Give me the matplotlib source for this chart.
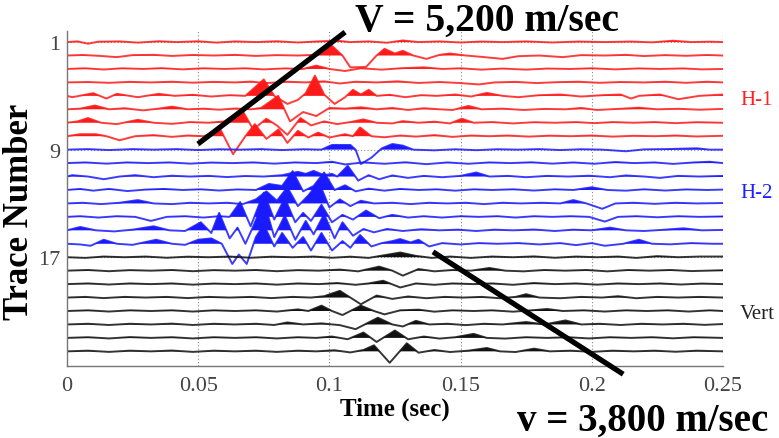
import numpy as np
import matplotlib
matplotlib.use("Agg")
import matplotlib.pyplot as plt

# each trace: (time in ms, amplitude in trace spacings)
h1_traces = [
    [(0, 0), (4, 0.05), (8, -0.12), (12, 0.03), (20, 0.05), (27, -0.04), (35, 0.06), (42, 0.0), (50, 0.06),
     (57, -0.04), (64, 0.05), (72, 0.0), (80, 0.06), (88, -0.03), (96, 0.05), (103, 0.1), (108, 0.0),
     (115, 0.05), (122, -0.05), (128, 0.12), (134, 0.0), (142, 0.05), (150, -0.03), (158, 0.04), (166, 0.0),
     (175, 0.05), (185, -0.03), (195, 0.04), (205, 0.0), (215, 0.04), (223, -0.02), (231, 0.1), (238, 0.0),
     (245, 0.03), (250, 0)],
    [(0, 0), (6, 0.04), (12, -0.02), (19, -0.12), (25, 0.03), (33, 0.05), (40, -0.03), (48, 0.04), (56, 0.0),
     (64, 0.05), (72, -0.03), (80, 0.03), (88, 0.0), (95, 0.05), (101, 0.72), (105, 0.0), (108, -0.88),
     (114, -0.85), (118, 0.0), (121, 0.5), (125, 0.15), (128, 0.35), (132, 0.0), (137, -0.25), (142, 0.05),
     (146, 0.15), (152, 0.0), (158, -0.1), (166, -0.25), (172, -0.05), (180, 0.0), (189, -0.12), (196, 0.03),
     (205, 0.0), (213, 0.05), (220, -0.04), (228, 0.03), (236, -0.02), (244, 0.04), (250, 0)],
    [(0, 0), (7, 0.05), (14, -0.04), (21, 0.05), (29, 0.0), (36, 0.06), (44, -0.03), (52, 0.05), (60, 0.0),
     (68, 0.05), (75, -0.03), (83, 0.04), (90, 0.0), (95, 0.25), (100, 0.0), (106, -0.15), (112, 0.05),
     (120, -0.05), (128, 0.06), (136, 0.12), (143, 0.0), (150, 0.05), (158, -0.05), (166, 0.03), (175, -0.05),
     (183, 0.03), (192, 0.0), (200, 0.05), (209, -0.03), (218, 0.04), (226, 0.0), (235, 0.04), (242, -0.03),
     (250, 0)],
    [(0, 0), (8, 0.03), (16, -0.03), (24, 0.04), (32, 0.0), (40, 0.05), (48, -0.02), (56, 0.04), (64, 0.0),
     (70, 0.06), (76, -0.05), (84, 0.05), (91, 0.0), (98, 0.08), (104, -0.08), (110, 0.05), (118, 0.0),
     (126, 0.08), (134, -0.04), (142, 0.03), (150, -0.05), (157, -0.15), (163, 0.0), (171, 0.04), (179, -0.05),
     (187, 0.02), (195, 0.05), (203, -0.03), (211, 0.03), (220, 0.0), (228, 0.05), (236, -0.03), (244, 0.05),
     (250, 0)],
    [(0, 0), (2, -0.1), (10, 0.2), (15, -0.2), (19, 0.15), (27, -0.1), (35, 0.15), (41, 0.0), (48, 0.08),
     (55, -0.05), (62, 0.05), (68, 0.0), (75, 1.22), (79, 0.0), (84, -0.6), (88, -0.3), (91, 0.2), (94.5, 1.5),
     (98, 0.1), (102, -0.6), (106, -0.1), (109, 0.45), (112, 0.1), (115, 0.45), (118, 0.0), (123, 0.08),
     (129, -0.1), (135, 0.05), (141, 0.0), (148, 0.1), (154, -0.05), (160, 0.22), (166, 0.0), (172, -0.1),
     (180, 0.05), (188, 0.1), (196, -0.05), (204, 0.05), (211, 0.1), (215, -0.2), (218, 0.0), (226, 0.1),
     (233, -0.25), (241, 0.0), (250, 0.1)],
    [(0, 0), (5, 0.05), (10.7, 0.28), (16, 0.0), (22, 0.08), (29, -0.08), (35, 0.05), (40, 0.2), (46, 0.0),
     (52, 0.05), (58, -0.03), (64, 0.06), (70, 0.0), (74, 0.1), (80.5, 1.0), (85, -0.9), (90, -0.2), (95, -0.5),
     (100, 0.1), (106, 0.05), (112, 0.15), (118, 0.0), (124, 0.1), (130, -0.05), (136, 0.08), (142, 0.0),
     (147, -0.05), (153, 0.25), (158, 0.0), (166, 0.05), (174, -0.05), (182, 0.03), (190, 0.0), (196, 0.1),
     (202, -0.05), (210, 0.03), (218, 0.12), (225, 0.0), (233, 0.04), (241, -0.03), (250, 0.03)],
    [(0, 0), (4, 0.1), (8, 0.35), (13, 0.0), (19, -0.1), (27, 0.22), (33, 0.0), (40, -0.08), (47, 0.05),
     (54, 0.0), (60, 0.1), (66.6, 1.0), (71, -0.5), (76, 0.3), (80, -0.2), (84, -0.9), (89, 0.35), (93, -0.2),
     (98, 0.1), (103, -0.1), (108, 0.05), (113, 0.25), (118, 0.0), (124, -0.05), (128, 0.12), (134, 0.0),
     (140, 0.08), (146, -0.05), (150.5, 0.3), (155, 0.0), (162, 0.05), (170, -0.05), (178, 0.04), (186, 0.0),
     (194, 0.05), (201, -0.03), (208, 0.05), (216, 0.0), (224, 0.05), (232, -0.03), (240, 0.04), (250, 0.0)],
    [(0, 0), (5, 0.15), (11, 0.15), (15, 0.0), (20, -0.3), (26, 0.0), (33, 0.08), (40, -0.05), (46, 0.05),
     (52, 0.0), (58.6, 0.45), (63.3, -1.34), (68, 0.0), (71.6, 0.9), (76, -0.2), (80.6, 0.5), (84, -0.5),
     (88, 0.4), (92, -0.1), (95.7, 0.27), (100, -0.1), (106, 0.15), (109, 0.0), (111.7, 0.65), (116, 0.0),
     (121, -0.08), (127, 0.05), (133, -0.03), (140, 0.08), (147, -0.05), (154, 0.05), (161, 0.0), (168, 0.05),
     (176, -0.03), (184, 0.04), (192, 0.0), (200, 0.05), (208, -0.03), (216, 0.03), (224, 0.0), (232, 0.05),
     (240, -0.02), (250, 0.03)],
]

h2_traces = [
    [(0, 0), (8, 0.04), (16, -0.03), (25, 0.04), (33, 0.0), (42, 0.04), (50, -0.03), (58, 0.03), (66, 0.0),
     (74, 0.04), (82, -0.03), (90, 0.03), (97, 0.0), (101, 0.35), (108, 0.35), (110, 0.0), (112, -1.07),
     (116, -0.6), (120, 0.1), (124, 0.42), (128, 0.3), (132, 0.0), (140, -0.05), (148, 0.03), (156, -0.04),
     (164, 0.03), (172, 0.0), (180, 0.04), (188, -0.03), (196, 0.03), (204, 0.0), (213, -0.12), (220, 0.02),
     (228, 0.04), (240, 0.1), (245, 0.0), (250, 0.0)],
    [(0, 0), (7, 0.05), (15, -0.04), (23, 0.05), (31, 0.0), (39, 0.05), (47, -0.04), (55, 0.04), (63, 0.0),
     (71, 0.05), (79, -0.04), (87, 0.05), (95, 0.0), (101, 0.1), (106, -0.1), (113, 0.05), (121, -0.05),
     (129, 0.06), (137, -0.08), (145, 0.05), (153, -0.05), (161, 0.05), (169, 0.0), (177, 0.06), (185, -0.04),
     (193, 0.05), (201, -0.05), (209, 0.08), (216, 0.0), (224, 0.05), (231, -0.06), (239, 0.05), (245, 0.1),
     (250, 0.0)],
    [(0, 0), (2, 0.1), (8, 0.0), (14, -0.2), (20, 0.0), (26, 0.1), (33, -0.05), (40, 0.06), (47, 0.0),
     (54, 0.05), (61, -0.04), (68, 0.04), (75, 0.0), (82, 0.1), (88, 0.35), (91, 0.2), (94, 0.42), (98, 0.1),
     (101, 0.2), (103, 0.0), (107, 0.8), (111, -0.3), (115, 0.1), (119, -0.2), (124, 0.08), (130, -0.1),
     (136, 0.05), (143, -0.05), (150, 0.05), (156, 0.3), (161, 0.0), (168, 0.05), (175, -0.05), (183, 0.05),
     (191, 0.0), (199, 0.06), (207, -0.05), (213, 0.08), (220, 0.0), (226, -0.1), (233, 0.05), (241, 0.0),
     (250, 0.05)],
    [(0, 0), (5, 0.08), (10, -0.05), (16, 0.08), (23, -0.08), (30, 0.03), (37, 0.08), (44, 0.0), (51, 0.05),
     (58, -0.04), (65, 0.04), (72, 0.0), (77, 0.45), (82, 0.3), (86, 1.4), (90, -0.1), (94, 0.3), (98, 1.3),
     (102, 0.0), (106, 0.35), (110, -0.1), (115, 0.1), (121, -0.05), (127, 0.08), (134, 0.0), (141, 0.05),
     (148, -0.05), (155, 0.05), (162, 0.0), (170, 0.05), (178, -0.04), (186, 0.05), (193, 0.0), (200, 0.2),
     (206, 0.0), (213, -0.05), (220, 0.05), (228, -0.04), (236, 0.04), (244, 0.0), (250, 0.03)],
    [(0, 0), (6, 0.05), (13, -0.05), (20, 0.05), (27, 0.25), (33, 0.0), (40, -0.05), (47, 0.05), (54, 0.0),
     (61, 0.05), (67, -0.05), (72, 0.3), (76, 0.9), (80, 0.2), (84, 1.2), (88, -0.2), (92, 0.6), (96, 1.6),
     (100, -0.3), (104, 0.3), (108, -0.2), (112, 0.2), (117, 0.0), (124, 0.05), (131, -0.05), (138, 0.05),
     (145, 0.0), (152, 0.05), (159, -0.05), (166, 0.05), (173, 0.0), (181, 0.05), (188, 0.0), (193, 0.25),
     (198, 0.0), (204, -0.4), (209, 0.0), (216, 0.05), (224, -0.03), (232, 0.05), (240, 0.0), (250, 0.03)],
    [(0, 0), (5, 0.05), (12, -0.05), (19, 0.05), (26, 0.0), (32, -0.3), (38, 0.0), (45, 0.05), (52, -0.05),
     (58, 0.05), (62, 0.0), (66, 1.1), (70, -0.7), (75, 1.8), (79, -0.2), (83, 1.4), (87, -0.4), (90, 0.3),
     (93, -0.3), (97, 0.9), (101, -0.4), (105, 0.15), (109, -0.2), (114, 0.47), (119, -0.1), (124, 0.15),
     (130, -0.05), (136, 0.05), (143, -0.05), (150, 0.05), (157, 0.0), (164, 0.05), (171, -0.05), (178, 0.05),
     (185, 0.0), (192, 0.05), (199, 0.0), (205, -0.35), (210, 0.0), (217, 0.05), (225, -0.03), (233, 0.05),
     (241, 0.0), (250, 0.03)],
    [(0, 0), (5, 0.25), (11, 0.0), (18, -0.08), (25, 0.05), (33, 0.3), (39, 0.0), (45, -0.05), (51, 0.6),
     (55, -0.2), (58, 1.3), (62, -0.6), (65, 0.2), (68, -1.0), (71, 0.3), (75, 2.2), (79, -0.5), (83, 1.1),
     (87, -0.7), (91, 0.7), (94, -0.3), (98, 1.2), (102, -0.6), (105, 0.6), (109, -0.4), (113, 0.1),
     (117, -0.15), (122, 0.1), (128, -0.05), (135, 0.08), (142, 0.0), (149, 0.05), (156, -0.05), (163, 0.05),
     (170, 0.0), (178, 0.06), (186, -0.05), (193, 0.05), (200, 0.0), (207, 0.2), (213, 0.0), (220, -0.05),
     (228, 0.05), (235, 0.15), (242, 0.0), (250, 0.03)],
    [(0, 0), (5, -0.05), (9, -0.15), (14, 0.3), (19, 0.0), (25, -0.08), (34, 0.3), (40, 0.0), (45, -0.08),
     (50, 0.3), (55, 0.4), (59, 0.0), (63, -1.5), (65.5, -0.8), (68.5, -1.5), (72, 0.5), (75, 1.4), (79, -0.2),
     (82, 0.8), (86, -0.3), (90, 0.5), (93, -0.5), (97, 0.8), (101, -0.5), (105, 0.2), (108, -0.3),
     (111.7, 0.65), (116, -0.2), (120, 0.05), (124, 0.2), (127, 0.35), (131, 0.1), (134, 0.3), (138, -0.2),
     (143, 0.05), (150, -0.05), (157, 0.05), (164, 0.0), (172, 0.05), (180, -0.05), (188, 0.05), (194, -0.1),
     (200, 0.05), (205, -0.15), (212, 0.0), (218, 0.3), (223, 0.0), (230, -0.04), (238, 0.05), (246, 0.0),
     (250, 0.0)],
]

vert_traces = [
    [(0, 0), (7, -0.05), (14, 0.05), (22, 0.0), (30, 0.05), (38, -0.04), (46, 0.04), (54, 0.0), (62, 0.05),
     (70, -0.04), (78, 0.04), (86, 0.0), (94, 0.05), (101, -0.04), (108, 0.04), (115, -0.05), (121, 0.15),
     (127, 0.35), (133, 0.1), (139, -0.05), (146, 0.05), (154, -0.05), (162, 0.05), (170, 0.0), (178, 0.06),
     (186, -0.04), (194, 0.05), (202, 0.0), (210, 0.05), (217, -0.05), (225, 0.08), (233, 0.0), (241, 0.05),
     (250, 0.05)],
    [(0, 0), (8, 0.05), (16, -0.04), (24, 0.04), (32, 0.0), (40, 0.05), (48, -0.04), (56, 0.04), (64, 0.0),
     (72, 0.05), (80, -0.04), (88, 0.04), (96, 0.0), (104, 0.08), (111, -0.05), (119, 0.3), (124, 0.0),
     (128, -0.37), (134, 0.12), (140, -0.05), (147, 0.05), (154, 0.0), (161, 0.2), (167, 0.0), (174, -0.05),
     (182, 0.05), (190, 0.0), (198, 0.05), (206, -0.05), (214, 0.05), (222, 0.0), (230, 0.05), (238, -0.03),
     (250, 0.03)],
    [(0, 0), (8, 0.05), (16, -0.03), (24, 0.05), (32, 0.0), (40, 0.05), (48, -0.04), (56, 0.04), (64, 0.0),
     (72, 0.05), (80, -0.04), (88, 0.05), (96, 0.0), (103, 0.08), (110, -0.05), (115, 0.05), (120.5, 0.25),
     (127, -0.25), (133, 0.05), (140, -0.05), (147, 0.05), (155, 0.0), (162, 0.05), (170, -0.05), (178, 0.08),
     (186, 0.0), (194, 0.05), (202, -0.04), (210, 0.05), (218, 0.0), (226, 0.05), (234, -0.03), (242, 0.04),
     (250, 0.0)],
    [(0, 0), (7, 0.05), (14, -0.04), (22, 0.05), (30, 0.0), (38, 0.05), (46, -0.04), (54, 0.05), (62, 0.0),
     (70, 0.05), (78, -0.04), (86, 0.05), (93, 0.0), (98, 0.1), (104, 0.5), (108, 0.0), (112, -0.5), (118, 0.15),
     (124, -0.1), (130, 0.08), (137, -0.05), (144, 0.05), (151, 0.0), (158, 0.05), (165, -0.05), (171, 0.05),
     (175, 0.25), (180, 0.0), (188, -0.05), (196, 0.05), (204, 0.0), (210, 0.1), (217, -0.05), (225, 0.05),
     (233, 0.0), (241, 0.05), (250, 0.0)],
    [(0, 0), (8, 0.05), (16, -0.04), (24, 0.05), (32, 0.0), (40, 0.05), (48, -0.04), (56, 0.05), (64, 0.0),
     (72, 0.05), (80, -0.04), (88, 0.12), (92, 0.0), (97, 0.4), (101, 0.0), (105, -0.3), (112, 0.4), (117, 0.0),
     (121, -0.25), (127, 0.05), (134, 0.1), (140, -0.05), (147, 0.05), (155, 0.0), (162, 0.05), (170, -0.05),
     (177, 0.05), (183, 0.15), (189, 0.0), (197, 0.05), (205, -0.04), (213, 0.05), (221, 0.0), (229, 0.05),
     (237, -0.04), (245, 0.05), (250, 0.0)],
    [(0, 0), (8, 0.05), (16, -0.04), (24, 0.05), (32, 0.0), (40, 0.06), (48, -0.04), (56, 0.05), (64, 0.0),
     (72, 0.05), (79, -0.04), (84, 0.15), (90, 0.0), (97, 0.08), (104, -0.05), (110, -0.35), (118.5, 0.5),
     (124, 0.0), (128, -0.15), (133, 0.27), (138, 0.0), (145, 0.05), (152, -0.05), (159, 0.05), (166, 0.0),
     (175, 0.18), (182, 0.0), (190, 0.3), (196, 0.0), (203, 0.05), (211, -0.04), (219, 0.05), (227, 0.0),
     (235, 0.05), (243, -0.03), (250, 0.03)],
    [(0, 0), (8, 0.05), (16, -0.04), (24, 0.06), (32, 0.0), (40, 0.05), (48, -0.04), (56, 0.05), (64, 0.0),
     (72, 0.05), (80, -0.04), (88, 0.05), (95, 0.0), (101, 0.1), (107, -0.1), (113, 0.4), (118, -0.3),
     (125, 0.55), (130, -0.1), (136, 0.1), (142, -0.05), (148, 0.05), (155, 0.3), (160, 0.0), (167, -0.05),
     (175, 0.05), (183, 0.0), (191, 0.05), (199, -0.04), (207, 0.05), (215, 0.0), (223, 0.05), (231, -0.03),
     (239, 0.05), (250, 0.0)],
    [(0, 0), (8, 0.05), (16, -0.04), (24, 0.05), (32, 0.0), (40, 0.06), (48, -0.04), (56, 0.05), (64, 0.0),
     (72, 0.05), (80, -0.04), (88, 0.05), (95, 0.0), (102, 0.08), (108, -0.08), (113, 0.1), (117, 0.45),
     (123, -0.85), (129.5, 0.6), (134, -0.1), (140, 0.1), (146, -0.05), (153, 0.05), (160, 0.25), (165, 0.0),
     (171, -0.05), (178, 0.2), (184, 0.0), (192, 0.05), (200, -0.04), (208, 0.05), (216, 0.0), (224, 0.05),
     (232, -0.03), (240, 0.05), (250, 0.0)],
]

group_colors = ["#ff1a1a", "#1a1aff", "#111111"]
group_names = ["H-1", "H-2", "Vert"]

# velocity picks (time s, trace number)
fast_line_t = [0.0499, 0.106]
fast_line_tr = [8.58, 0.26]
slow_line_t = [0.1395, 0.212]
slow_line_tr = [16.6, 25.7]

serif = ["Liberation Serif", "DejaVu Serif"]

fig = plt.figure(figsize=(7.79, 4.39), dpi=100)
ax = fig.add_axes([0.086, 0.164, 0.842, 0.763])

traceNo = 1
for traces, color in zip([h1_traces, h2_traces, vert_traces], group_colors):
    for tr in traces:
        t = np.array([p[0] for p in tr]) / 1000.0
        a = np.array([p[1] for p in tr])
        y = traceNo - a
        ax.fill_between(t, traceNo, y, where=a > 0, interpolate=True,
                        color=color, linewidth=0)
        ax.plot(t, y, color=color, linewidth=1.4, alpha=0.85)
        traceNo += 1

ax.plot(fast_line_t, fast_line_tr, color="black", linewidth=3.8,
        solid_capstyle="butt", clip_on=False, zorder=5)
ax.plot(slow_line_t, slow_line_tr, color="black", linewidth=3.8,
        solid_capstyle="butt", clip_on=False, zorder=5)

ax.set_xlim(0, 0.25)
ax.set_ylim(25.09, 0.18)
ax.set_xticks([0, 0.05, 0.1, 0.15, 0.2, 0.25])
ax.set_xticklabels(["0", "0.05", "0.1", "0.15", "0.2", "0.25"])
ax.set_yticks([1, 9, 17])
ax.grid(True, linestyle=(0, (1, 2)), color="#888888", linewidth=0.8)
ax.set_axisbelow(True)
ax.tick_params(length=0, labelsize=16, labelcolor="#444444")
ax.tick_params(axis="x", pad=7)
ax.tick_params(axis="y", pad=5)
for lbl in ax.get_xticklabels() + ax.get_yticklabels():
    lbl.set_family(serif)

for side in ["top", "right"]:
    ax.spines[side].set_visible(False)
for side in ["left", "bottom"]:
    ax.spines[side].set_color("#777777")
    ax.spines[side].set_linewidth(1.0)
ax.axvline(0.25, color="#888888", linestyle=(0, (1, 2)), linewidth=0.8, zorder=0)

ax.set_xlabel("Time (sec)", family=serif, fontweight="bold", fontsize=18, labelpad=1)
ax.set_ylabel("Trace Number", family=serif, fontweight="bold", fontsize=25)
ax.yaxis.set_label_coords(-0.048, 0.463)

# group labels on the right
ax.text(0.2565, 5.3, group_names[0], color="#ff2020", family=serif, fontsize=15,
        va="center", ha="left", clip_on=False)
ax.text(0.2565, 12.2, group_names[1], color="#2020ff", family=serif, fontsize=15,
        va="center", ha="left", clip_on=False)
ax.text(0.2565, 21.2, group_names[2], color="#222222", family=serif, fontsize=15,
        va="center", ha="left", clip_on=False)

fig.text(355 / 779, 1 - 21 / 439, "V = 5,200 m/sec", family=serif, fontweight="bold",
         fontsize=28.5, va="center", ha="left")
fig.text(517 / 779, 1 - 421 / 439, "v = 3,800 m/sec", family=serif, fontweight="bold",
         fontsize=28, va="center", ha="left")

fig.savefig("out.png", dpi=100)
